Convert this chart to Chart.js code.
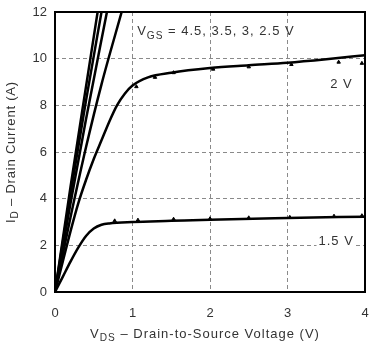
<!DOCTYPE html>
<html>
<head>
<meta charset="utf-8">
<script src="https://cdn.jsdelivr.net/npm/chart.js@4/dist/chart.umd.min.js"></script>
<style>
  html, body { margin: 0; padding: 0; background: #fff; }
  #wrap { width: 371px; height: 347px; }
</style>
</head>
<body>
<div id="wrap"><canvas id="ivChart" width="371" height="347"></canvas></div>
<script>
// Output characteristics, ID vs VDS for several VGS
const vds45 = [0, 0.2, 0.4, 0.55];
const id45 = [0, 4.5, 8.8, 12];
const vds35 = [0, 0.2, 0.4, 0.6];
const id35 = [0, 4.2, 8.2, 12];
const vds30 = [0, 0.2, 0.4, 0.67];
const id30 = [0, 3.8, 7.4, 12];
const vds25 = [0, 0.2, 0.4, 0.6, 0.86];
const id25 = [0, 3.2, 6.2, 8.9, 12];

const vds20 = [0, 0.1, 0.2, 0.3, 0.4, 0.5, 0.6, 0.7, 0.8, 0.9, 1.0, 1.2, 1.5, 2, 2.5, 3, 3.5, 4];
const id20 = [0, 1.3, 2.6, 3.8, 4.8, 5.7, 6.5, 7.3, 8.0, 8.5, 8.85, 9.2, 9.4, 9.6, 9.72, 9.83, 9.98, 10.15];
const vds15 = [0, 0.1, 0.2, 0.3, 0.4, 0.5, 0.6, 0.7, 1.0, 1.5, 2, 3, 4];
const id15 = [0, 0.65, 1.3, 1.9, 2.4, 2.72, 2.88, 2.94, 3.0, 3.05, 3.1, 3.17, 3.23];

// measured points
const ptVds20 = [1.05, 1.29, 1.53, 2.04, 2.5, 3.05, 3.66, 3.96];
const ptId20 = [8.8, 9.2, 9.4, 9.55, 9.65, 9.75, 9.85, 9.8];
const ptVds15 = [0.77, 1.07, 1.53, 2.0, 2.5, 3.03, 3.6, 3.96];
const ptId15 = [3.05, 3.08, 3.12, 3.14, 3.18, 3.2, 3.25, 3.27];

const xTicks = [0, 1, 2, 3, 4];
const yTicks = [0, 2, 4, 6, 8, 10, 12];

const textColor = '#333';
const fontFamily = '"Liberation Sans", Arial, sans-serif';

function toPoints(xs, ys) {
    return xs.map((x, i) => ({ x: x, y: ys[i] }));
}

function curve(label, xs, ys, width) {
    return {
        label: label,
        data: toPoints(xs, ys),
        borderColor: '#000',
        borderWidth: width,
        pointRadius: 0,
        showLine: true,
        fill: false,
        cubicInterpolationMode: 'monotone'
    };
}

function markers(label, xs, ys) {
    return {
        label: label,
        data: toPoints(xs, ys),
        showLine: false,
        pointStyle: 'triangle',
        pointRadius: 2,
        backgroundColor: '#000',
        borderColor: '#000',
        borderWidth: 1
    };
}

// draws main text + subscript + rest
function drawSubText(ctx, x, y, main, sub, rest, size, align, spacing) {
    ctx.letterSpacing = spacing + 'px';
    ctx.font = size + 'px ' + fontFamily;
    const wMain = ctx.measureText(main).width;
    const wRest = ctx.measureText(rest).width;
    ctx.font = (size * 0.78) + 'px ' + fontFamily;
    const wSub = ctx.measureText(sub).width;
    const total = wMain + wSub + wRest;
    let start = x;
    if (align === 'center') start = x - total / 2;
    if (align === 'right') start = x - total;
    ctx.textAlign = 'left';
    ctx.textBaseline = 'alphabetic';
    ctx.font = size + 'px ' + fontFamily;
    ctx.fillText(main, start, y);
    ctx.font = (size * 0.78) + 'px ' + fontFamily;
    ctx.fillText(sub, start + wMain, y + size * 0.25);
    ctx.font = size + 'px ' + fontFamily;
    ctx.fillText(rest, start + wMain + wSub, y);
    ctx.letterSpacing = '0px';
}

function labelWithBg(ctx, text, x, y, size, spacing) {
    ctx.letterSpacing = spacing + 'px';
    ctx.font = size + 'px ' + fontFamily;
    const w = ctx.measureText(text).width;
    ctx.fillStyle = '#fff';
    ctx.fillRect(x - 2, y - size + 1, w + 4, size + 2);
    ctx.fillStyle = textColor;
    ctx.textAlign = 'left';
    ctx.textBaseline = 'alphabetic';
    ctx.fillText(text, x, y);
    ctx.letterSpacing = '0px';
}

const decorPlugin = {
    id: 'decor',
    afterDatasetsDraw(chart) {
        const ctx = chart.ctx;
        const a = chart.chartArea;
        const xs = chart.scales.x;
        const ys = chart.scales.y;
        ctx.save();
        // frame
        ctx.strokeStyle = '#000';
        ctx.lineWidth = 2;
        ctx.strokeRect(a.left, a.top, a.right - a.left, a.bottom - a.top);

        // curve labels
        ctx.fillStyle = textColor;
        drawSubText(ctx, xs.getPixelForValue(1.06), ys.getPixelForValue(11.0), 'V', 'GS', ' = 4.5, 3.5, 3, 2.5 V', 13, 'left', 1);
        labelWithBg(ctx, '2 V', xs.getPixelForValue(3.55), ys.getPixelForValue(8.75), 13, 1);
        labelWithBg(ctx, '1.5 V', xs.getPixelForValue(3.4), ys.getPixelForValue(2.0), 13, 1);

        // axis titles
        ctx.fillStyle = textColor;
        drawSubText(ctx, (a.left + a.right) / 2 - 5, 338, 'V', 'DS', ' \u2013 Drain-to-Source Voltage (V)', 13, 'center', 1);
        ctx.translate(15, (a.top + a.bottom) / 2);
        ctx.rotate(-Math.PI / 2);
        drawSubText(ctx, 0, 0, 'I', 'D', ' \u2013 Drain Current (A)', 13, 'center', 0.8);
        ctx.restore();
    }
};

const ctx = document.getElementById('ivChart').getContext('2d');
new Chart(ctx, {
    type: 'scatter',
    data: {
        datasets: [
            curve('4.5 V', vds45, id45, 2.5),
            curve('3.5 V', vds35, id35, 2.5),
            curve('3 V', vds30, id30, 2.5),
            curve('2.5 V', vds25, id25, 2.5),
            curve('2 V', vds20, id20, 2.5),
            curve('1.5 V', vds15, id15, 2.5),
            markers('2 V meas', ptVds20, ptId20),
            markers('1.5 V meas', ptVds15, ptId15)
        ]
    },
    options: {
        responsive: false,
        animation: false,
        layout: { padding: { top: 12, right: 6, left: 0, bottom: 0 } },
        plugins: {
            legend: { display: false },
            tooltip: { enabled: false }
        },
        scales: {
            x: {
                type: 'linear',
                min: 0,
                max: 4,
                afterFit(scale) {
                    scale.height = 55;
                    scale.paddingLeft = 0;
                    scale.paddingRight = 0;
                },
                afterBuildTicks(scale) { scale.ticks = xTicks.map(v => ({ value: v })); },
                border: { display: false, dash: [4, 3] },
                grid: { color: '#8a8a8a', lineWidth: 1, drawTicks: false },
                ticks: { color: textColor, font: { family: fontFamily, size: 13 }, padding: 14 }
            },
            y: {
                type: 'linear',
                min: 0,
                max: 12,
                afterFit(scale) {
                    scale.width = 55;
                    scale.paddingTop = 0;
                    scale.paddingBottom = 0;
                },
                afterBuildTicks(scale) { scale.ticks = yTicks.map(v => ({ value: v })); },
                border: { display: false, dash: [4, 3] },
                grid: { color: '#8a8a8a', lineWidth: 1, drawTicks: false },
                ticks: { color: textColor, font: { family: fontFamily, size: 13 }, padding: 8 }
            }
        }
    },
    plugins: [decorPlugin]
});
</script>
</body>
</html>
